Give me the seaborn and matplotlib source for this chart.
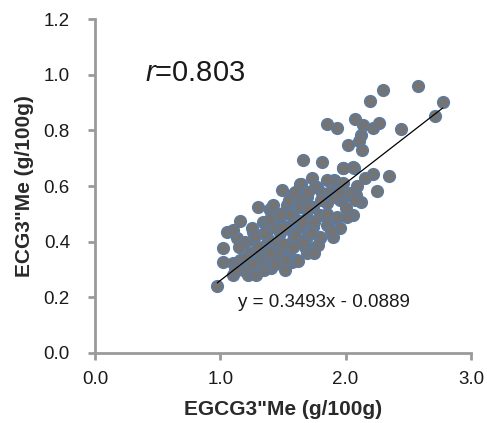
import matplotlib
matplotlib.use("Agg")
import matplotlib.pyplot as plt
import seaborn as sns
import numpy as np
import pandas as pd

egcg = [0.976, 2.774, 2.716, 2.577, 2.295, 2.194, 1.854, 1.928, 2.077, 2.141, 2.221, 2.268,
        2.444, 2.125, 2.109, 2.021, 2.128, 1.657, 1.809, 1.976, 2.067, 2.343, 2.221, 2.157,
        2.253, 1.907, 1.729, 1.641, 1.774, 1.489, 2.088, 2.083, 2.125, 2.056, 1.968, 1.303,
        1.396, 1.157, 1.051, 1.136, 1.024, 1.024, 1.098, 1.223, 1.285, 1.402, 1.569, 1.689,
        1.742, 1.795, 1.862, 1.928, 1.104,
        1.104, 1.263, 1.237, 1.157, 1.343, 1.503, 1.556, 1.476, 1.556, 1.516, 1.317, 1.423,
        1.370, 1.476, 1.582, 1.609, 1.609, 1.263, 1.343, 1.396, 1.476,
        1.981, 2.061, 1.915, 1.636, 1.755, 1.569, 1.689, 1.809, 1.875, 1.981, 2.035, 2.075,
        1.955, 1.849, 1.742, 1.636, 1.529, 1.396, 1.476, 1.582, 1.689, 1.795, 1.928, 2.008,
        1.849, 1.742, 1.636, 1.529, 1.955, 1.901, 1.795, 1.689, 1.582, 1.782, 1.676, 1.423,
        1.370,
        1.20, 1.25, 1.30, 1.35, 1.40, 1.45, 1.50, 1.55, 1.60, 1.65, 1.70, 1.75, 1.80, 1.85,
        1.90, 1.62, 1.55, 1.45, 1.35, 1.30, 1.20, 1.18, 1.15, 1.28, 1.40, 1.50, 1.58, 1.66,
        1.72, 1.48, 1.42, 1.60, 1.70, 1.85, 1.95, 2.00, 1.88, 1.75, 1.62, 1.52, 1.44, 1.25,
        1.12]

ecg = [0.241, 0.903, 0.853, 0.959, 0.945, 0.907, 0.823, 0.808, 0.840, 0.819, 0.807, 0.827,
       0.805, 0.783, 0.763, 0.747, 0.729, 0.693, 0.687, 0.663, 0.663, 0.637, 0.642, 0.628,
       0.583, 0.622, 0.628, 0.607, 0.598, 0.586, 0.600, 0.568, 0.544, 0.496, 0.550, 0.526,
       0.517, 0.473, 0.436, 0.412, 0.376, 0.326, 0.280, 0.280, 0.280, 0.304, 0.328, 0.360,
       0.376, 0.412, 0.460, 0.484, 0.442,
       0.322, 0.436, 0.358, 0.334, 0.472, 0.502, 0.526, 0.430, 0.370, 0.334, 0.340, 0.394,
       0.460, 0.466, 0.430, 0.478, 0.334, 0.406, 0.382, 0.334, 0.370,
       0.663, 0.669, 0.619, 0.609, 0.598, 0.568, 0.562, 0.574, 0.580, 0.610, 0.574, 0.550,
       0.550, 0.538, 0.526, 0.526, 0.532, 0.514, 0.490, 0.490, 0.490, 0.496, 0.490, 0.490,
       0.460, 0.454, 0.454, 0.454, 0.448, 0.418, 0.418, 0.418, 0.406, 0.388, 0.382, 0.454,
       0.418,
       0.40, 0.45, 0.38, 0.43, 0.48, 0.40, 0.45, 0.50, 0.42, 0.47, 0.52, 0.47, 0.55, 0.50,
       0.56, 0.56, 0.55, 0.36, 0.30, 0.32, 0.34, 0.30, 0.38, 0.42, 0.36, 0.39, 0.38, 0.40,
       0.43, 0.50, 0.53, 0.58, 0.58, 0.62, 0.58, 0.52, 0.44, 0.36, 0.33, 0.30, 0.32, 0.32,
       0.30]

slope = 0.3493
intercept = -0.0889
r_label = "0.803"
eq_label = "y = 0.3493x - 0.0889"
x_ticks = [0.0, 1.0, 2.0, 3.0]
y_ticks = [0.0, 0.2, 0.4, 0.6, 0.8, 1.0, 1.2]

df = pd.DataFrame({"x": egcg, "y": ecg})

sns.set_theme(style="white")
plt.rcParams["font.family"] = ["Liberation Sans", "DejaVu Sans"]
plt.rcParams["mathtext.fontset"] = "custom"
plt.rcParams["mathtext.it"] = "Liberation Sans:italic"
plt.rcParams["mathtext.rm"] = "Liberation Sans"

fig = plt.figure(figsize=(4.87, 4.23), dpi=100)
ax = fig.add_axes([0.195, 0.1655, 0.772, 0.7895])

sns.scatterplot(data=df, x="x", y="y", ax=ax, s=72, color="#747474",
                edgecolor="#5B7BA3", linewidth=1.0, zorder=2)

xl = np.array([min(egcg), max(egcg)])
ax.plot(xl, slope * xl + intercept, color="black", lw=0.9, zorder=3)

ax.set_xlim(0, 3.0)
ax.set_ylim(0, 1.2)
ax.set_xticks(x_ticks)
ax.set_xticklabels([f"{v:.1f}" for v in x_ticks])
ax.set_yticks(y_ticks)
ax.set_yticklabels([f"{v:.1f}" for v in y_ticks])

for s in ["top", "right"]:
    ax.spines[s].set_visible(False)
for s in ["left", "bottom"]:
    ax.spines[s].set_color("#9a9a9a")
    ax.spines[s].set_linewidth(2.0)
ax.tick_params(axis="both", which="both", direction="out", length=5, width=2,
               color="#9a9a9a", labelsize=13.5, labelcolor="#1a1a1a",
               bottom=True, left=True)
ax.tick_params(axis="x", pad=8)
ax.tick_params(axis="y", pad=13)

ax.set_xlabel('EGCG3"Me (g/100g)', fontsize=15, fontweight="bold", color="#2a2a2a")
ax.set_ylabel('ECG3"Me (g/100g)', fontsize=15, fontweight="bold", color="#2a2a2a")
ax.xaxis.set_label_coords(0.5, -0.142)
ax.yaxis.set_label_coords(-0.163, 0.5)

ax.text(0.40, 1.006, r"$\it{r}$" + "=" + r_label, fontsize=21, color="#1a1a1a",
        va="center", ha="left")
ax.text(1.14, 0.18, eq_label, fontsize=13.5, color="#1a1a1a", va="center", ha="left")

fig.savefig("out.png", dpi=100)
